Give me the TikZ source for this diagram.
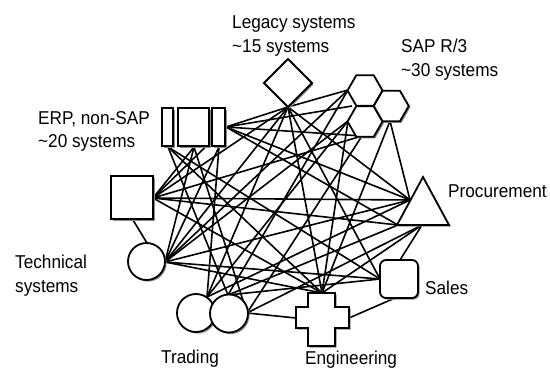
\documentclass[tikz,border=0pt]{standalone}
\usepackage{fontspec}
\setmainfont{Liberation Sans}[FakeStretch=0.925]
\usetikzlibrary{shadows}
\begin{document}
\begin{tikzpicture}[x=1pt,y=-1pt,
  link/.style={line width=1.6pt},
  sysbox/.style={draw, line width=1.8pt, fill=white, line join=miter,
    drop shadow={shadow xshift=1.6pt, shadow yshift=-1.6pt, fill=black!45, opacity=1}},
  lbl/.style={anchor=base west, inner sep=0pt, font=\fontsize{18.6}{23}\selectfont}]
\useasboundingbox (0,0) rectangle (550,370);

% attachment points on the system symbols
\coordinate (eR) at (226,127);   % ERP, right block, right side
\coordinate (eL) at (168,147);   % ERP, left block, bottom
\coordinate (eM) at (194,147);   % ERP, middle block, bottom
\coordinate (eB) at (219,147);   % ERP, right block, bottom
\coordinate (lg) at (288,107);   % legacy diamond, bottom tip
\coordinate (h1) at (348,90);    % SAP honeycomb, upper left corner
\coordinate (h5) at (352,106);   % SAP honeycomb, left notch
\coordinate (h2) at (348,121);   % SAP honeycomb, lower left corner
\coordinate (h3) at (362,136);   % SAP honeycomb, bottom edge
\coordinate (h4) at (390,121);   % SAP honeycomb, right cell bottom
\coordinate (p1) at (410,200);   % procurement, left flank
\coordinate (p2) at (398,225);   % procurement, base left
\coordinate (p3) at (422,225);   % procurement, base middle
\coordinate (sa1) at (380,279);  % sales, left side
\coordinate (sa2) at (400,260);  % sales, top
\coordinate (sa3) at (395,298);  % sales, bottom
\coordinate (en) at (322,293);   % engineering, top arm
\coordinate (enL) at (296,318);  % engineering, left arm
\coordinate (enR) at (349,318);  % engineering, right arm
\coordinate (t1) at (207,297);   % trading, first circle
\coordinate (t2) at (228,295);   % trading, second circle top
\coordinate (t3) at (247,313);   % trading, second circle right
\coordinate (te) at (165,262);   % technical systems circle, right
\coordinate (teT) at (147,243);  % technical systems circle, top
\coordinate (sq) at (153,198);   % square, right side
\coordinate (sqB) at (133,220);  % square, bottom

% point-to-point interfaces
\foreach \a/\b in {eR/lg, eR/h5, eR/h3, eR/p1, eR/p2, eR/sq,
    eL/t2, eL/en, eL/sa1, eM/sq, eM/te, eM/t3, eB/te, eB/t1,
    lg/h1, lg/p1, lg/en, lg/sq, lg/te, lg/t1, lg/sa1,
    h1/te, h1/t2, h2/en, h2/t1, h3/t3, h3/sq, h4/p1, h4/en, h2/te,
    p1/sq, p2/sq, p1/te, p2/t2, p3/t3, p3/en, p3/sa2, p1/t1,
    sa1/te, sa1/t2, sa3/enR, en/sq, en/te, enL/t3, sqB/teT}
  \draw[link] (\a) -- (\b);

% ERP, non-SAP
\path[sysbox] (162,108) rectangle (173,146);
\path[sysbox] (178,108) rectangle (209,146);
\path[sysbox] (212,108) rectangle (225,146);
% legacy systems
\path[sysbox] (288,59) -- (312,83) -- (288,107) -- (264,83) -- cycle;
% SAP R/3 honeycomb
\foreach \cx/\cy in {365/90.5, 365/121.5, 391.25/106}
  \path[sysbox] (\cx,\cy) +(17.5,0) -- +(8.75,-15.16) -- +(-8.75,-15.16)
    -- +(-17.5,0) -- +(-8.75,15.16) -- +(8.75,15.16) -- cycle;
% procurement
\path[sysbox] (423,177) -- (449,225) -- (397,225) -- cycle;
% sales
\path[sysbox, rounded corners=6pt] (380,260) rectangle (418,298);
% engineering
\path[sysbox] (308,293) -- (335,293) -- (335,307) -- (349,307) -- (349,328)
  -- (335,328) -- (335,346) -- (308,346) -- (308,328) -- (296,328)
  -- (296,307) -- (308,307) -- cycle;
% square and technical systems
\path[sysbox] (111,176) rectangle (153,219);
\path[sysbox] (146.5,261.5) circle[radius=18.5];
% trading
\path[sysbox] (196,313) circle[radius=19];
\path[sysbox] (229,313.5) circle[radius=19];

% labels
\node[lbl] (legA) at (232,28) {Legacy systems};
\node[lbl] (legB) at (232,52) {\textasciitilde 15 systems};
\node[lbl] (sapA) at (401,52) {SAP R/3};
\node[lbl] (sapB) at (401,76) {\textasciitilde 30 systems};
\node[lbl] (erpA) at (38,124) {ERP, non-SAP};
\node[lbl] (erpB) at (38,147) {\textasciitilde 20 systems};
\node[lbl] (procL) at (448,197) {Procurement};
\node[lbl] (techA) at (15,268) {Technical};
\node[lbl] (techB) at (15,292) {systems};
\node[lbl] (salesL) at (425,294) {Sales};
\node[lbl] (tradL) at (161,363) {Trading};
\node[lbl] (engL) at (305,364) {Engineering};
\end{tikzpicture}
\end{document}
